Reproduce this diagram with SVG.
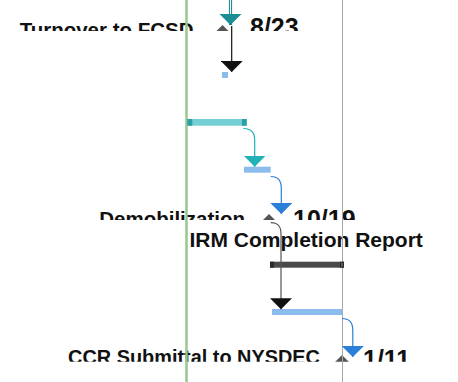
<svg xmlns="http://www.w3.org/2000/svg" width="458" height="382" viewBox="0 0 458 382">
  <style>
    .lbl { font-family: "Liberation Sans", Arial, sans-serif; font-weight: bold; font-size: 20.5px; fill: #111; }
    .date { font-family: "Liberation Sans", Arial, sans-serif; font-weight: bold; font-size: 25px; fill: #111; }
    .dia { fill: #555; }
    .conn { fill: none; stroke-width: 1.2; }
    .lb { fill: #8bbcec; }
  </style>
  <defs>
    <clipPath id="c1"><rect x="0" y="0" width="458" height="31"/></clipPath>
    <clipPath id="c2"><rect x="0" y="195" width="458" height="25"/></clipPath>
    <clipPath id="c3"><rect x="0" y="335" width="458" height="26.7"/></clipPath>
    <marker id="aTealD" viewBox="0 0 11 22" refX="11" refY="11" markerWidth="11" markerHeight="22" markerUnits="userSpaceOnUse" orient="auto"><path d="M0,0 L11,11 L0,22 z" fill="#1b8e93"/></marker>
    <marker id="aTeal" viewBox="0 0 11 22" refX="11" refY="11" markerWidth="11" markerHeight="22" markerUnits="userSpaceOnUse" orient="auto"><path d="M0,0 L11,11 L0,22 z" fill="#20b2b7"/></marker>
    <marker id="aBlue" viewBox="0 0 11 22" refX="11" refY="11" markerWidth="11" markerHeight="22" markerUnits="userSpaceOnUse" orient="auto"><path d="M0,0 L11,11 L0,22 z" fill="#2b7fd9"/></marker>
    <marker id="aBlack" viewBox="0 0 11 22" refX="11" refY="11" markerWidth="11" markerHeight="22" markerUnits="userSpaceOnUse" orient="auto"><path d="M0,0 L11,11 L0,22 z" fill="#111"/></marker>
  </defs>

  <g id="turnover" clip-path="url(#c1)">
    <text class="lbl" x="193.5" y="37.3" text-anchor="end">Turnover to FCSD</text>
    <polygon class="dia" points="222.5,25 231,33.5 222.5,42 214,33.5"/>
    <text class="date" x="250" y="36.3">8/23</text>
  </g>
  <g id="demobilization" clip-path="url(#c2)">
    <text class="lbl" x="245" y="225.8" text-anchor="end">Demobilization</text>
    <polygon class="dia" points="269,214 277.5,222.5 269,231 260.5,222.5"/>
    <text class="date" x="293" y="227.6">10/19</text>
  </g>
  <g id="ccr" clip-path="url(#c3)">
    <text class="lbl" x="320" y="364.4" text-anchor="end" style="font-size:19.9px">CCR Submittal to NYSDEC</text>
    <polygon class="dia" points="342,355 350.5,363.5 342,372 333.5,363.5"/>
    <text class="date" x="363" y="368">1/11</text>
  </g>
  <g id="irm-label">
    <text class="lbl" x="189.5" y="246.5" style="font-size:21px">IRM Completion Report</text>
  </g>

  <g id="gridlines">
    <line x1="186.5" y1="0" x2="186.5" y2="382" stroke="#95c98f" stroke-width="2.5"/>
    <line x1="342.5" y1="0" x2="342.5" y2="382" stroke="#a6a6a6" stroke-width="1"/>
  </g>

  <g id="task-small">
    <rect class="lb" x="222" y="72" width="6" height="6"/>
  </g>
  <g id="task-teal">
    <rect x="187.3" y="119" width="59.4" height="6.7" fill="#74cfd4"/>
    <rect x="187.3" y="119" width="5" height="6.7" fill="#2a9fa5"/>
    <rect x="242" y="119" width="4.7" height="6.7" fill="#2a9fa5"/>
  </g>
  <g id="task-blue1">
    <rect class="lb" x="244" y="166.7" width="26.7" height="6"/>
  </g>
  <g id="irm-bar">
    <rect x="270" y="261.7" width="74" height="6" fill="#4a4a4a"/>
    <rect x="270" y="261.7" width="4" height="6" fill="#2a2a2a"/>
    <rect x="340" y="261.7" width="4" height="6" fill="#2a2a2a"/>
    <rect x="341.5" y="262.7" width="1" height="4" fill="#888"/>
  </g>
  <g id="task-blue2">
    <rect class="lb" x="272" y="309" width="70.5" height="6"/>
  </g>

  <g id="connectors">
    <path d="M230.5,0 V25" stroke="#1b8e93" stroke-width="3.2" fill="none" marker-end="url(#aTealD)"/>
    <path d="M230.5,0 V14" stroke="#fff" stroke-width="1" fill="none"/>
    <path class="conn" d="M231.7,26 V72" stroke="#111" marker-end="url(#aBlack)"/>
    <path class="conn" d="M243.3,128.5 C251,128.5 254.7,132 254.7,140 V166.7" stroke="#20b2b7" marker-end="url(#aTeal)"/>
    <path class="conn" d="M270.7,176.5 C278,176.5 281.3,180 281.3,188 V214" stroke="#2b7fd9" marker-end="url(#aBlue)"/>
    <path class="conn" d="M270.7,222.7 C278,222.7 281,226 281,234 V309.3" stroke="#555" marker-end="url(#aBlack)"/>
    <path class="conn" d="M342,318.5 C349.5,318.5 352.8,322 352.8,330 V357" stroke="#2b7fd9" marker-end="url(#aBlue)"/>
  </g>
</svg>
